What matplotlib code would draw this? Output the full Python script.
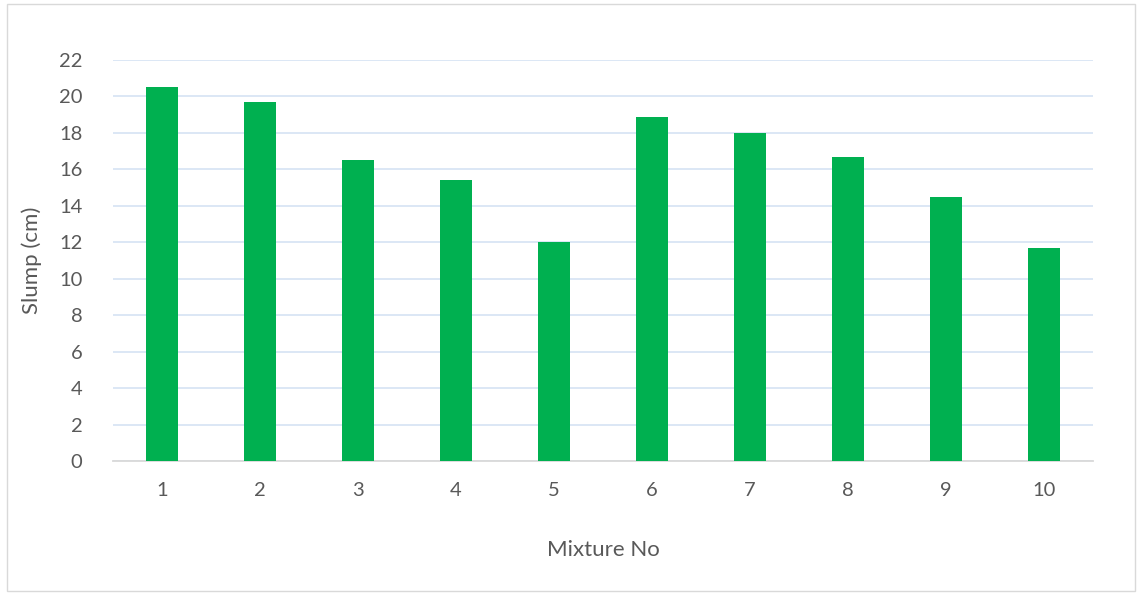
import matplotlib.pyplot as plt
from matplotlib.patches import Rectangle

# data
mixtures = ['1', '2', '3', '4', '5', '6', '7', '8', '9', '10']
slump = [20.5, 19.7, 16.5, 15.4, 12.0, 18.9, 18.0, 16.7, 14.5, 11.7]
y_ticks = [0, 2, 4, 6, 8, 10, 12, 14, 16, 18, 20, 22]

bar_color = '#00B050'
grid_color = '#D6E3F3'
text_color = '#595959'

plt.rcParams['font.family'] = ['Lato', 'DejaVu Sans']

fig = plt.figure(figsize=(11.42, 5.93), dpi=100)
ax = fig.add_axes([113 / 1142, 1 - 461 / 593, 980 / 1142, 401 / 593])

x = list(range(len(mixtures)))
ax.bar(x, slump, width=0.33, color=bar_color, zorder=3)

ax.set_xlim(-0.5, len(mixtures) - 0.5)
ax.set_ylim(0, 22)
ax.set_yticks(y_ticks)
ax.set_xticks(x)
ax.set_xticklabels(mixtures)

ax.grid(axis='y', color=grid_color, linewidth=1.2, zorder=0)
for s in ['top', 'right', 'left']:
    ax.spines[s].set_visible(False)
ax.spines['bottom'].set_color('#D9D9D9')
ax.spines['bottom'].set_linewidth(1.3)
ax.tick_params(length=0, labelsize=14.5, colors=text_color)
ax.tick_params(axis='x', pad=15)
ax.tick_params(axis='y', pad=22)

ax.set_xlabel('Mixture No', fontsize=16, color=text_color, labelpad=30)
ax.set_ylabel('Slump (cm)', fontsize=16, color=text_color, labelpad=12)

# chart border
fig.patches.append(Rectangle((7 / 1142, 2 / 593), 1128 / 1142, 587 / 593,
                             transform=fig.transFigure, fill=False,
                             edgecolor='#D9D9D9', linewidth=1))

fig.savefig('out.png', dpi=100)
